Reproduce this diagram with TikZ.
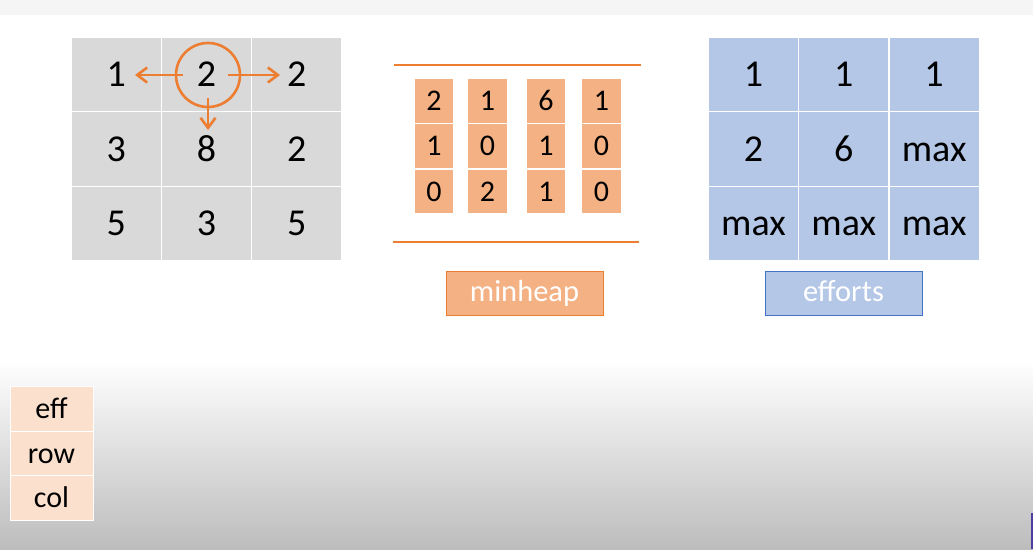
\documentclass[tikz,border=0pt]{standalone}
\usepackage{fontspec}
\setmainfont{Carlito}
\usepackage{tikz}
\usetikzlibrary{arrows.meta}

\definecolor{gridgray}{HTML}{D9D9D9}
\definecolor{arrorange}{HTML}{ED7D31}
\definecolor{heaporange}{HTML}{F4B183}
\definecolor{effblue}{HTML}{B4C7E7}
\definecolor{effline}{HTML}{4472C4}
\definecolor{penmark}{HTML}{4B3FA0}

\begin{document}
\begin{tikzpicture}
[x=1pt,y=-1pt,every node/.style={rectangle,inner sep=0pt,text=black,text depth=0pt},
 gcell/.style={draw=white,line width=1.5pt,minimum width=90.3pt,minimum height=74.7pt,text height=24pt,font=\fontsize{38}{44}\selectfont},
 hcell/.style={fill=heaporange,draw=white,line width=1.5pt,minimum width=40pt,minimum height=45pt,text height=19pt,font=\fontsize{30}{34}\selectfont},
 lcell/.style={fill=heaporange!40,draw=white,line width=1pt,minimum width=83pt,minimum height=44.5pt,text height=19pt,font=\fontsize{30}{34}\selectfont},
 tag/.style={line width=1pt,minimum width=157pt,minimum height=44pt,text=white,text height=17pt,font=\fontsize{30.5}{34}\selectfont},
 link/.style={draw=arrorange,line width=2.6pt,-{Straight Barb[length=10pt,width=15pt]}}]
% background
\useasboundingbox (0,0) rectangle (1033,549);
\fill[white] (0,0) rectangle (1033,549);
\fill[black!4] (0,0) rectangle (1033,15);
\shade[top color=white,bottom color=black!26] (0,360) rectangle (1033,549);
\fill[penmark] (1031,513) rectangle (1033,549);
% grid
\foreach \r/\c/\t in {1/1/1,1/2/2,1/3/2,2/1/3,2/2/8,2/3/2,3/1/5,3/2/3,3/3/5}
	\node[gcell,fill=gridgray] (g\r\c) at ({25.9+90.3*\c},{-0.4+74.7*\r}) {\t};
% efforts
\foreach \r/\c/\t in {1/1/1,1/2/1,1/3/1,2/1/2,2/2/6,2/3/max,3/1/max,3/2/max,3/3/max}
	\node[gcell,fill=effblue] (e\r\c) at ({663.2+90.3*\c},{-0.4+74.7*\r}) {\t};
% minheap
\foreach \c/\x/\a/\b/\d in {1/434/2/1/0,2/487.5/1/0/2,3/546/6/1/1,4/601.5/1/0/0} {
	\node[hcell] (h1\c) at (\x,101) {\a};
	\node[hcell] (h2\c) at (\x,146) {\b};
	\node[hcell] (h3\c) at (\x,191.5) {\d};
}
\draw[arrorange,line width=2.8pt] (394,65) -- (641,65);
\draw[arrorange,line width=2.8pt] (393,242) -- (639,242);
\node[tag,fill=heaporange,draw=arrorange] (heap) at (524.5,293) {minheap};
\node[tag,fill=effblue,draw=effline] (effs) at (843.5,293) {efforts};
% legend
\node[lcell] (eff) at (51.5,409) {eff};
\node[lcell] (row) at (51.5,453.5) {row};
\node[lcell] (col) at (51.5,498) {col};
% current cell
\node[circle,draw=arrorange,line width=2.6pt,minimum size=64pt] (cur) at (208,75) {};
\coordinate (lfrom) at (183,75);
\coordinate (lto) at (135,75);
\coordinate (rfrom) at (228,75);
\coordinate (rto) at (280,75);
\coordinate (dfrom) at (208,98);
\coordinate (dto) at (208,130);
\foreach \from/\to in {lfrom/lto,rfrom/rto,dfrom/dto}
	\draw[link] (\from) -- (\to);
\end{tikzpicture}
\end{document}
